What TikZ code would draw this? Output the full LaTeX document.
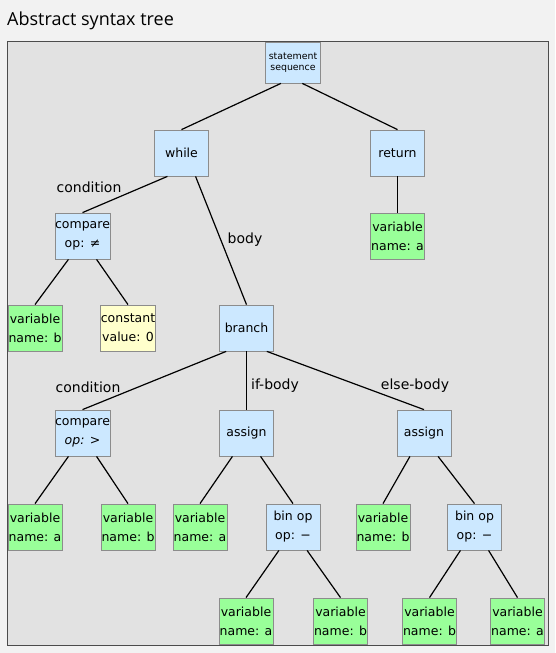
\documentclass[tikz,border=0pt]{standalone}
\usepackage{fontspec}
\setmainfont{DejaVu Sans}
\newfontfamily\titlefont{Open Sans}
\usetikzlibrary{positioning}

\definecolor{pagegray}{HTML}{F2F2F2}
\definecolor{framegray}{HTML}{E2E2E2}
\definecolor{bluefill}{HTML}{CCE8FF}
\definecolor{greenfill}{HTML}{99FF99}
\definecolor{yellowfill}{HTML}{FFFFCC}
\definecolor{boxline}{HTML}{8C8C8C}

\begin{document}
\begin{tikzpicture}[x=1pt,y=-1pt,
    boxstyle/.style={rectangle,draw=boxline,line width=0.8pt,minimum width=54pt,minimum height=46pt,
      inner sep=0pt,align=center,font=\fontsize{12.5}{19}\selectfont},
    bluestyle/.style={boxstyle,fill=bluefill},
    greenstyle/.style={boxstyle,fill=greenfill},
    yellowstyle/.style={boxstyle,fill=yellowfill},
    labelstyle/.style={font=\fontsize{14}{16}\selectfont,inner sep=0pt},
    edgestyle/.style={line width=1.2pt}]
    \useasboundingbox (0,0) rectangle (555,653);
    \fill[pagegray] (0,0) rectangle (555,653);
    \node[anchor=base west,inner sep=0pt,font=\titlefont\fontsize{18}{20}\selectfont] (title) at (7,25) {Abstract syntax tree};
    \draw[fill=framegray,draw=black!70,line width=1pt] (7,41) rectangle (548,645);
    % level 1 and 2
    \node[bluestyle,minimum width=55pt,minimum height=41pt,font=\fontsize{9.4}{10.7}\selectfont] (seq) at (293,62.5) {statement\\sequence};
    \node[bluestyle] (while) at (181.5,153) {while};
    \node[bluestyle] (ret) at (397.5,153) {return};
    % level 3
    \node[bluestyle] (cmpa) at (82.5,236) {compare\\op: ≠};
    \node[greenstyle] (vara) at (397.5,236) {variable\\name: a};
    % level 4
    \node[greenstyle] (varb) at (35,328) {variable\\name: b};
    \node[yellowstyle] (const) at (128,328) {constant\\value: 0};
    \node[bluestyle] (branch) at (246.5,328) {branch};
    % level 5
    \node[bluestyle] (cmpb) at (82.5,433) {compare\\\textit{op: >}};
    \node[bluestyle] (asga) at (246.5,433) {assign};
    \node[bluestyle] (asgb) at (424,433) {assign};
    % level 6
    \node[greenstyle] (va1) at (35,527) {variable\\name: a};
    \node[greenstyle] (vb1) at (128,527) {variable\\name: b};
    \node[greenstyle] (va2) at (200,527) {variable\\name: a};
    \node[bluestyle] (bina) at (293,527) {bin op\\op: −};
    \node[greenstyle] (vb2) at (383,527) {variable\\name: b};
    \node[bluestyle] (binb) at (474.5,527) {bin op\\op: −};
    % level 7
    \node[greenstyle] (va3) at (246,621) {variable\\name: a};
    \node[greenstyle] (vb3) at (340.5,621) {variable\\name: b};
    \node[greenstyle] (vb4) at (429.5,621) {variable\\name: b};
    \node[greenstyle] (va4) at (517.5,621) {variable\\name: a};
    % edge labels
    \node[labelstyle] (lcond1) at (89,187) {condition};
    \node[labelstyle] (lbody) at (245,240) {body};
    \node[labelstyle] (lcond2) at (88,387) {condition};
    \node[labelstyle] (lif) at (275,386) {if-body};
    \node[labelstyle] (lelse) at (415,386) {else-body};
    % edges
    \draw[edgestyle] (seq.240) -- (while.north);
    \draw[edgestyle] (seq.294) -- (ret.north);
    \draw[edgestyle] (while.239) -- (cmpa.north);
    \draw[edgestyle] (while.301) -- (branch.north);
    \draw[edgestyle] (ret.south) -- (vara.north);
    \draw[edgestyle] (cmpa.239) -- (varb.north);
    \draw[edgestyle] (cmpa.301) -- (const.north);
    \draw[edgestyle] (branch.229) -- (cmpb.north);
    \draw[edgestyle] (branch.south) -- (asga.north);
    \draw[edgestyle] (branch.311) -- (asgb.north);
    \foreach \p/\l/\r in {cmpb/va1/vb1,asga/va2/bina,asgb/vb2/binb,bina/va3/vb3,binb/vb4/va4} {
      \draw[edgestyle] (\p.239) -- (\l.north);
      \draw[edgestyle] (\p.301) -- (\r.north);
    }
\end{tikzpicture}
\end{document}
